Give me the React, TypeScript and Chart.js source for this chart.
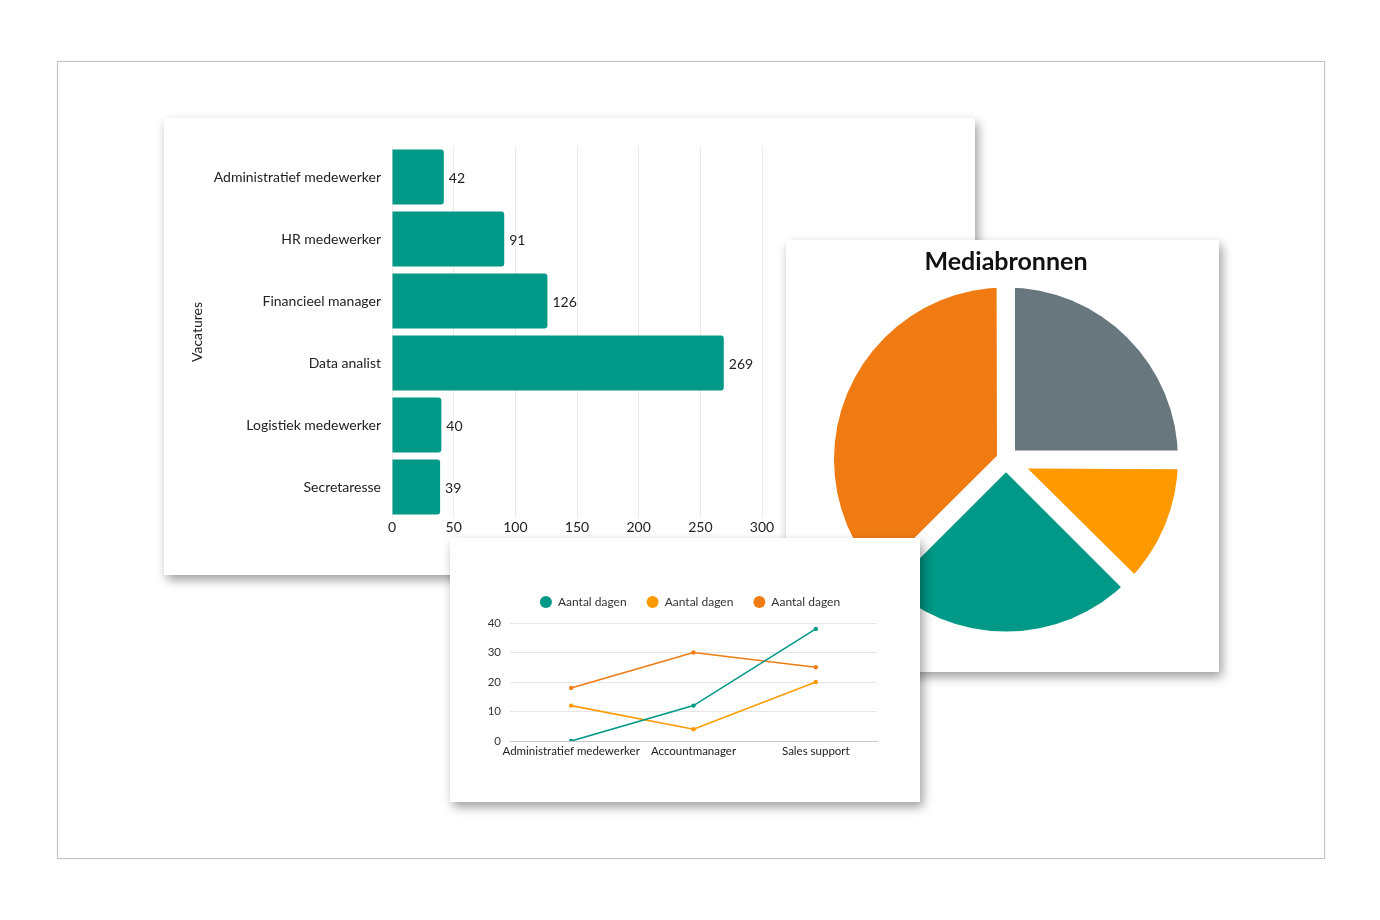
import React, { useEffect, useRef } from 'react'
import { Chart, registerables } from 'chart.js'

Chart.register(...registerables)

const FONT = 'Lato, "Noto Sans", sans-serif'

// bar chart: vacatures
const vacatures = ['Administratief medewerker', 'HR medewerker', 'Financieel manager', 'Data analist', 'Logistiek medewerker', 'Secretaresse']
const vacatureCounts = [42, 91, 126, 269, 40, 39]

// pie chart: mediabronnen
const mediaLabels = ['Bron A', 'Bron B', 'Bron C', 'Bron D']
const mediaValues = [25, 12.5, 25, 37.5]
const mediaColors = ['#68767e', '#fe9a00', '#009886', '#ef7b12']
// slice pull-out (chart.js moves a slice offset/4 px), tuned so every gap is ~18px wide
const mediaOffsets = [51, 94, 51, 39]
const PIE_RADIUS = 172

// line chart: aantal dagen
const functies = ['Administratief medewerker', 'Accountmanager', 'Sales support']
const dagenTeal = [0, 12, 38]
const dagenYellow = [12, 4, 20]
const dagenOrange = [18, 30, 25]

const TEAL = '#009886'
const YELLOW = '#fe9a00'
const ORANGE = '#ef7b12'

const valueLabels = {
  id: 'valueLabels',
  afterDatasetsDraw(chart: any) {
    const ctx = chart.ctx
    const meta = chart.getDatasetMeta(0)
    const data = chart.data.datasets[0].data
    ctx.save()
    ctx.font = `14px ${FONT}`
    ctx.fillStyle = '#222'
    ctx.textAlign = 'left'
    ctx.textBaseline = 'middle'
    meta.data.forEach((bar: any, i: number) => {
      ctx.fillText(String(data[i]), bar.x + 5, bar.y + 1)
    })
    ctx.restore()
  },
}

// keep the pulled-out slices inside the original circle
const pieClip = {
  id: 'pieClip',
  beforeDatasetsDraw(chart: any) {
    const arc = chart.getDatasetMeta(0).data[0]
    const ctx = chart.ctx
    ctx.save()
    ctx.beginPath()
    ctx.arc(arc.x, arc.y, PIE_RADIUS, 0, Math.PI * 2)
    ctx.clip()
  },
  afterDatasetsDraw(chart: any) {
    chart.ctx.restore()
  },
}

// an invisible scale used only to reserve space
const spacer = (position: string, size: number) => ({
  type: 'linear',
  position,
  grid: { display: false, drawTicks: false },
  ticks: { display: false },
  border: { display: false },
  afterFit: (s: any) => {
    if (position === 'top' || position === 'bottom') s.height = size
    else s.width = size
  },
})

const cardShadow = '3px 5px 10px rgba(0,0,0,0.38)'

export default function App() {
  const barRef = useRef<HTMLCanvasElement>(null)
  const pieRef = useRef<HTMLCanvasElement>(null)
  const lineRef = useRef<HTMLCanvasElement>(null)

  useEffect(() => {
    const charts: Chart[] = []

    if (barRef.current) {
      charts.push(new Chart(barRef.current, {
        type: 'bar',
        data: {
          labels: vacatures,
          datasets: [{
            data: vacatureCounts,
            backgroundColor: TEAL,
            borderRadius: 3,
            categoryPercentage: 1,
            barPercentage: 0.89,
          }],
        },
        options: {
          indexAxis: 'y',
          responsive: true,
          maintainAspectRatio: false,
          animation: false,
          layout: { padding: { left: 21, top: 28, right: 213, bottom: 0 } },
          plugins: { legend: { display: false }, tooltip: { enabled: false } },
          scales: {
            x: {
              min: 0,
              max: 300,
              ticks: { stepSize: 50, padding: 1, color: '#222', font: { family: FONT, size: 14 } },
              grid: { color: '#ebebeb', drawTicks: false },
              border: { display: false },
              afterFit: (s: any) => { s.height = 57 },
            },
            y: {
              title: { display: true, text: 'Vacatures', color: '#222', font: { family: FONT, size: 14 } },
              ticks: { padding: 11, color: '#222', font: { family: FONT, size: 14 } },
              grid: { display: false, drawTicks: false },
              border: { display: false },
              afterFit: (s: any) => { s.width = 207 },
            },
          },
        },
        plugins: [valueLabels],
      }))
    }

    if (pieRef.current) {
      charts.push(new Chart(pieRef.current, {
        type: 'pie',
        data: {
          labels: mediaLabels,
          datasets: [{
            data: mediaValues,
            backgroundColor: mediaColors,
            borderWidth: 0,
            offset: mediaOffsets,
            clip: false,
          }],
        },
        options: {
          responsive: true,
          maintainAspectRatio: false,
          animation: false,
          radius: PIE_RADIUS + 30,
          layout: { padding: { left: 7, right: 0, top: 0, bottom: 30 } },
          plugins: {
            legend: { display: false },
            tooltip: { enabled: false },
            title: {
              display: true,
              text: 'Mediabronnen',
              color: '#111',
              font: { family: FONT, size: 25, weight: 'bold' },
              padding: { top: 7, bottom: 0 },
            },
          },
        } as any,
        plugins: [pieClip],
      }))
    }

    if (lineRef.current) {
      const ds = (data: number[], color: string) => ({
        label: 'Aantal dagen',
        data,
        borderColor: color,
        backgroundColor: color,
        borderWidth: 1.6,
        pointRadius: 2.2,
        pointBackgroundColor: color,
        pointBorderWidth: 0,
        tension: 0,
      })
      charts.push(new Chart(lineRef.current, {
        type: 'line',
        data: {
          labels: functies,
          datasets: [ds(dagenTeal, TEAL), ds(dagenYellow, YELLOW), ds(dagenOrange, ORANGE)],
        },
        options: {
          responsive: true,
          maintainAspectRatio: false,
          animation: false,
          layout: { padding: { left: 10, right: 0, top: 38, bottom: 0 } },
          plugins: {
            tooltip: { enabled: false },
            legend: {
              labels: {
                usePointStyle: true,
                pointStyle: 'circle',
                boxWidth: 12,
                boxHeight: 8.5,
                padding: 20,
                color: '#333',
                font: { family: FONT, size: 12 },
              },
            },
          },
          scales: {
            x: {
              offset: true,
              ticks: { padding: 3, color: '#222', autoSkip: false, maxRotation: 0, font: { family: FONT, size: 11.5 } },
              grid: { display: false, drawTicks: false },
              border: { display: true, color: '#c8c8c8' },
              afterFit: (s: any) => { s.height = 61 },
            },
            y: {
              min: 0,
              max: 40,
              ticks: { stepSize: 10, padding: 9, color: '#333', font: { family: FONT, size: 11.5 } },
              grid: { color: '#e6e6e6', drawTicks: false },
              border: { display: false },
              afterFit: (s: any) => { s.width = 50 },
            },
            gapTop: spacer('top', 5),
            gapRight: spacer('right', 43),
          },
        } as any,
      }))
    }

    return () => { charts.forEach(c => c.destroy()) }
  }, [])

  return (
    <div style={{ position: 'absolute', left: 0, top: 0, width: 1380, height: 920, background: '#fff', fontFamily: FONT }}>
      {/* outer frame */}
      <div style={{ position: 'absolute', left: 57, top: 61, width: 1266, height: 796, border: '1px solid #c4c4c4', boxShadow: '0 0 1px rgba(0,0,0,0.15)' }} />

      {/* bar card */}
      <div style={{ position: 'absolute', left: 164, top: 118, width: 811, height: 457, background: '#fff', boxShadow: cardShadow }}>
        <canvas ref={barRef}></canvas>
      </div>

      {/* pie card */}
      <div style={{ position: 'absolute', left: 786, top: 240, width: 433, height: 432, background: '#fff', boxShadow: cardShadow }}>
        <canvas ref={pieRef}></canvas>
      </div>

      {/* line card */}
      <div style={{ position: 'absolute', left: 450, top: 538, width: 470, height: 264, background: '#fff', boxShadow: cardShadow }}>
        <canvas ref={lineRef}></canvas>
      </div>
    </div>
  )
}
